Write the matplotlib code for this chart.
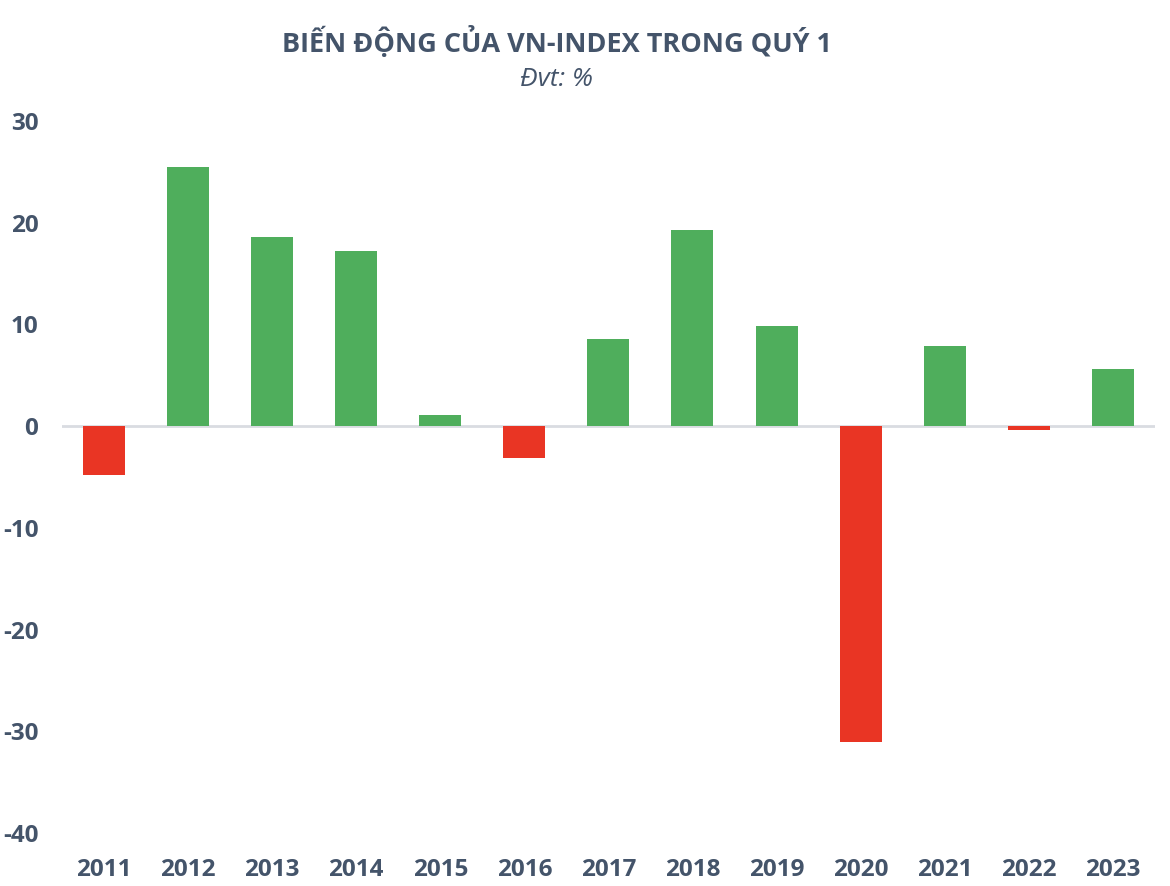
import matplotlib
matplotlib.use("Agg")
import matplotlib.pyplot as plt

years = ["2011", "2012", "2013", "2014", "2015", "2016", "2017",
         "2018", "2019", "2020", "2021", "2022", "2023"]
changes = [-4.8, 25.5, 18.6, 17.2, 1.1, -3.1, 8.6, 19.3, 9.8, -31.1, 7.9, -0.4, 5.6]
yticks = [30, 20, 10, 0, -10, -20, -30, -40]

GREEN = "#4FAE5C"
RED = "#E93524"
TEXT = "#44546A"

plt.rcParams['font.family'] = ['Open Sans', 'DejaVu Sans']

fig = plt.figure(figsize=(11.7, 8.86), dpi=100)
ax = fig.add_axes([0.053, 0.0598, 0.934, 0.8036])

colors = [GREEN if v >= 0 else RED for v in changes]
x = range(len(years))
ax.bar(x, changes, width=0.5, color=colors, zorder=2)
ax.axhline(0, color="#D9DCE1", linewidth=2, zorder=1)

ax.set_xlim(-0.5, len(years) - 0.5)
ax.set_ylim(-40, 30)
ax.set_yticks(yticks)
ax.set_yticklabels([str(t) for t in yticks])
ax.set_xticks(list(x))
ax.set_xticklabels(years)

for s in ax.spines.values():
    s.set_visible(False)
ax.tick_params(axis="both", length=0, labelsize=17.5, labelcolor=TEXT)
ax.tick_params(axis="y", pad=17)
ax.tick_params(axis="x", pad=18)
for lab in ax.get_xticklabels() + ax.get_yticklabels():
    lab.set_fontweight("bold")

fig.text(0.476, 0.953, "BIẾN ĐỘNG CỦA VN-INDEX TRONG QUÝ 1", ha="center", va="center",
         fontsize=19.5, fontweight="bold", color=TEXT)
fig.text(0.476, 0.910, "Đvt: %", ha="center", va="center",
         fontsize=19, fontstyle="italic", color=TEXT)

fig.savefig("out.png", dpi=100)
